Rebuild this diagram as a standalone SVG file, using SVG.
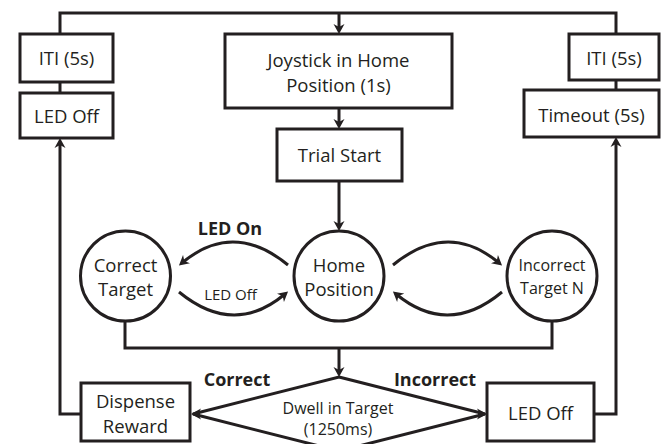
<svg xmlns="http://www.w3.org/2000/svg" width="661" height="444" viewBox="0 0 661 444">
<style>
.box{fill:#fff;stroke:#231f20;stroke-width:3}
.ln{fill:none;stroke:#231f20;stroke-width:3;stroke-linejoin:miter}
.arr{marker-end:url(#ah)}
text{font-family:"Open Sans","DejaVu Sans",sans-serif;fill:#231f20;text-anchor:middle}
.t{font-size:18.5px}
.s{font-size:16px}
.b{font-size:18px;font-weight:bold}
</style>
<defs>
<marker id="ah" markerUnits="userSpaceOnUse" markerWidth="12" markerHeight="12" refX="6" refY="6" orient="auto">
<path d="M0,0.5 L10,6 L0,11.5 L3,6 z" fill="#231f20"/>
</marker>
</defs>
<g id="connectors">
<path class="ln" d="M60,34 V13 H616 V34"/>
<path class="ln arr" d="M339,13 V30"/>
<path class="ln" d="M60,82 V93"/>
<path class="ln" d="M616,80 V90"/>
<path class="ln arr" d="M339,108 V125"/>
<path class="ln arr" d="M339,181 V227"/>
<path class="ln" d="M125,321 V348 H552 V321"/>
<path class="ln arr" d="M339,348 V373"/>
<path class="ln arr" d="M81,414 H60 V142"/>
<path class="ln arr" d="M594,414 H616 V141"/>
<path class="ln arr" d="M288,265 Q233,220 182,263"/>
<path class="ln arr" d="M179,292 Q234,337 285,294"/>
<path class="ln arr" d="M393,265 Q448,220 499,263"/>
<path class="ln arr" d="M502,292 Q448,337 396,294"/>
<path class="ln arr" d="M200,414 H195"/>
<path class="ln arr" d="M478,414 H483"/>
</g>
<g id="iti-left"><rect class="box" x="20" y="34" width="93" height="48"/><text class="t" x="66.5" y="65">ITI (5s)</text></g>
<g id="led-off-left"><rect class="box" x="20" y="93" width="93" height="45"/><text class="t" x="66.5" y="123">LED Off</text></g>
<g id="joystick"><rect class="box" x="225" y="34" width="227" height="74"/><text class="t" x="338.5" y="67">Joystick in Home</text><text class="t" x="338.5" y="92">Position (1s)</text></g>
<g id="iti-right"><rect class="box" x="569" y="34" width="90" height="46"/><text class="t" x="614" y="65">ITI (5s)</text></g>
<g id="timeout"><rect class="box" x="524" y="90" width="135" height="47"/><text class="t" x="591.5" y="122">Timeout (5s)</text></g>
<g id="trial-start"><rect class="box" x="277" y="129" width="125" height="52"/><text class="t" x="339.5" y="162">Trial Start</text></g>
<g id="correct-target"><circle class="box" cx="125.5" cy="276" r="45"/><text class="t" x="125.5" y="272">Correct</text><text class="t" x="125.5" y="296">Target</text></g>
<g id="home-position"><circle class="box" cx="339" cy="276" r="45"/><text class="t" x="339" y="272">Home</text><text class="t" x="339" y="296">Position</text></g>
<g id="incorrect-target"><circle class="box" cx="552" cy="276" r="45"/><text class="s" x="552" y="271">Incorrect</text><text class="s" x="552" y="294">Target N</text></g>
<g id="labels-arcs"><text class="b" x="230" y="235">LED On</text><text style="font-size:15px" x="230.5" y="300">LED Off</text></g>
<g id="dwell"><polygon class="ln" points="339,377 485,414 339,451 193,414"/><text class="s" x="338" y="414">Dwell in Target</text><text class="s" x="338" y="435">(1250ms)</text></g>
<g id="labels-outcome"><text class="b" x="237" y="386">Correct</text><text class="b" x="435" y="386">Incorrect</text></g>
<g id="dispense"><rect class="box" x="81" y="383" width="109" height="58"/><text class="t" x="135.5" y="408">Dispense</text><text class="t" x="135.5" y="433">Reward</text></g>
<g id="led-off-right"><rect class="box" x="487" y="383" width="107" height="58"/><text class="t" x="540.5" y="420">LED Off</text></g>
</svg>
